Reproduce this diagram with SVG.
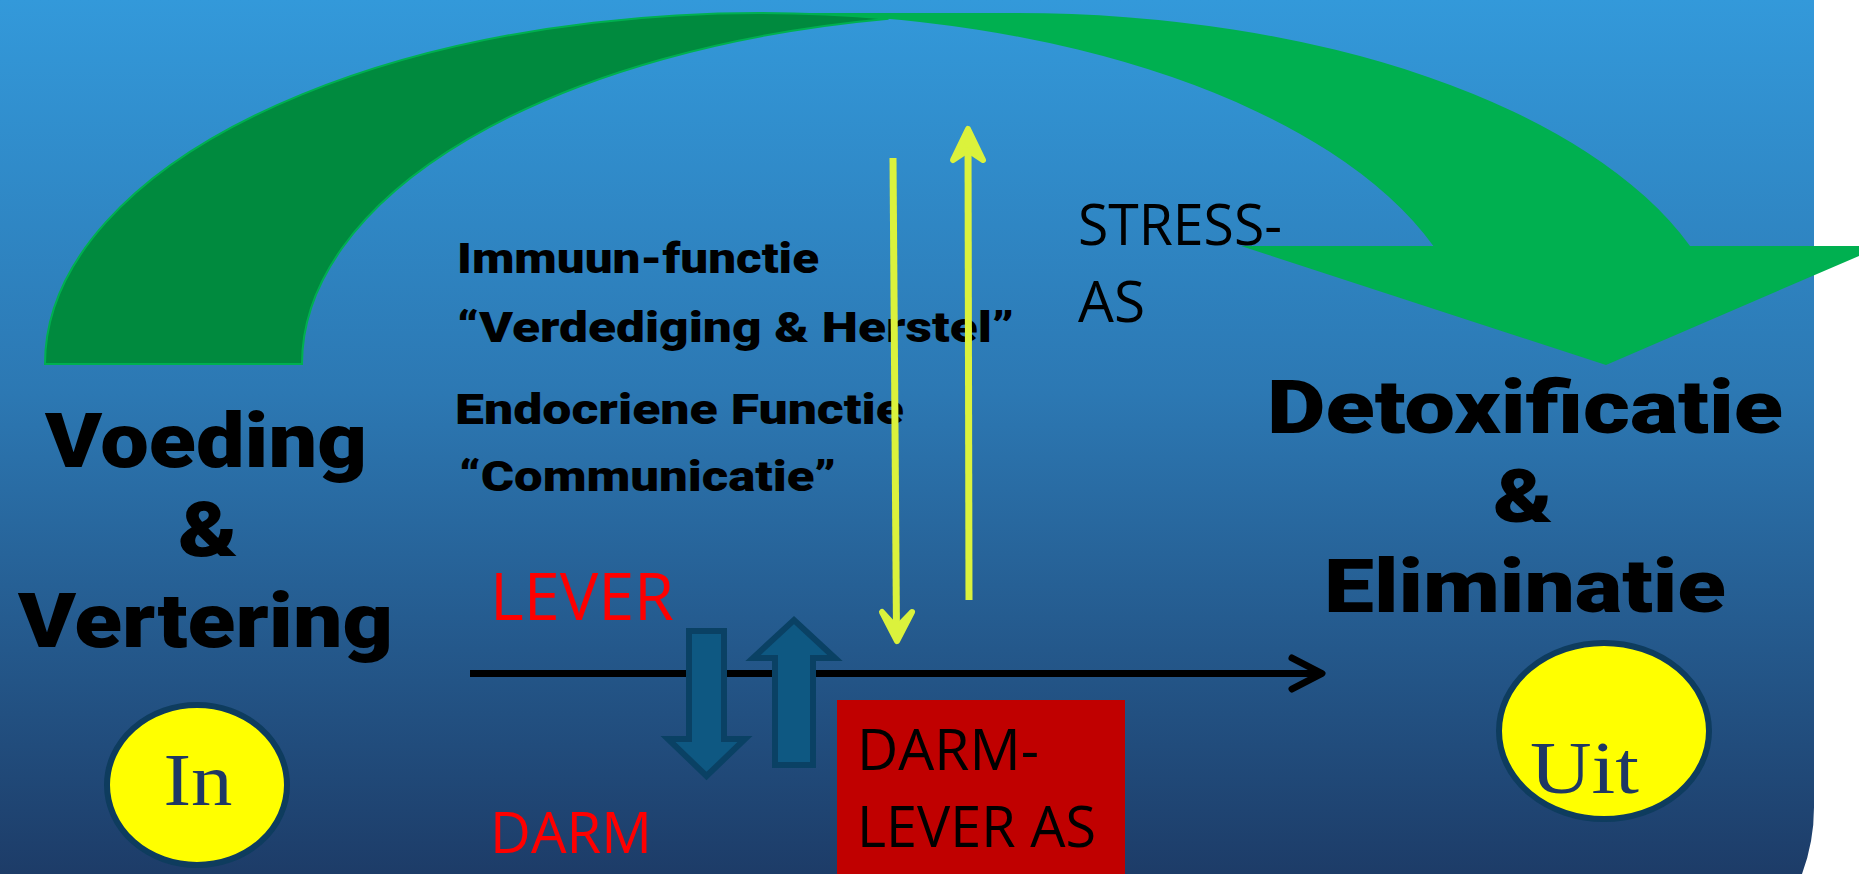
<svg xmlns="http://www.w3.org/2000/svg" width="1859" height="874" viewBox="0 0 1859 874">
  <defs>
    <linearGradient id="bg" x1="0" y1="0" x2="0" y2="1">
      <stop offset="0" stop-color="#3399da"/>
      <stop offset="0.45" stop-color="#2c78b3"/>
      <stop offset="1" stop-color="#1d3c68"/>
    </linearGradient>
    <style>
      .heavy { font-family: Roboto, "Liberation Sans", sans-serif; font-weight: 900; fill: #000; }
      .light { font-family: "Open Sans", "Liberation Sans", sans-serif; font-weight: 400; }
      .serif { font-family: "Liberation Serif", serif; fill: #1f3864; }
      .blockarrow { fill: #0e5882; stroke: #0a4164; stroke-width: 6; }
      .yellow { stroke: #dbf23c; stroke-width: 7; fill: none; }
      .oval { fill: #ffff00; stroke: #0e3c5e; stroke-width: 6; }
    </style>
  </defs>
  <g id="background">
    <rect x="0" y="0" width="1859" height="874" fill="#ffffff"/>
    <path d="M0,0 H1814 V807 A190,190 0 0 1 1802,874 H0 Z" fill="url(#bg)"/>
  </g>
  <g id="curved-arrow">
    <path d="M760,13 L1017,13 A715,351 0 0 1 1690,246 L1882,246 L1606,365 L1241,246 L1433.4,246 A715,351 0 0 0 760,13 Z" fill="#00b050"/>
    <path d="M45,364 A715,351 0 0 1 888.5,18.7 A715,351 0 0 0 302,364 Z" fill="#008a3e" stroke="#00b050" stroke-width="2"/>
  </g>
  <g id="voeding">
    <text class="heavy" x="45" y="467" font-size="76" textLength="322" lengthAdjust="spacingAndGlyphs">Voeding</text>
    <text class="heavy" x="178" y="556" font-size="76" textLength="60" lengthAdjust="spacingAndGlyphs">&amp;</text>
    <text class="heavy" x="18" y="647" font-size="76" textLength="375" lengthAdjust="spacingAndGlyphs">Vertering</text>
  </g>
  <g id="detox">
    <text class="heavy" x="1267" y="433" font-size="74" textLength="516" lengthAdjust="spacingAndGlyphs">Detoxificatie</text>
    <text class="heavy" x="1493" y="522" font-size="74" textLength="60" lengthAdjust="spacingAndGlyphs">&amp;</text>
    <text class="heavy" x="1324" y="612" font-size="74" textLength="402" lengthAdjust="spacingAndGlyphs">Eliminatie</text>
  </g>
  <g id="functies">
    <text class="heavy" x="457" y="273" font-size="42" textLength="362" lengthAdjust="spacingAndGlyphs">Immuun-functie</text>
    <text class="heavy" x="457" y="342" font-size="43" textLength="557" lengthAdjust="spacingAndGlyphs">“Verdediging &amp; Herstel”</text>
    <text class="heavy" x="455" y="424" font-size="43" textLength="449" lengthAdjust="spacingAndGlyphs">Endocriene Functie</text>
    <text class="heavy" x="459" y="491" font-size="43" textLength="377" lengthAdjust="spacingAndGlyphs">“Communicatie”</text>
  </g>
  <g id="stress-as">
    <text class="light" x="1078" y="245" font-size="56" fill="#000" textLength="204" lengthAdjust="spacingAndGlyphs">STRESS-</text>
    <text class="light" x="1078" y="322" font-size="56" fill="#000" textLength="67" lengthAdjust="spacingAndGlyphs">AS</text>
  </g>
  <g id="lever">
    <text class="light" x="490" y="620" font-size="66" fill="#ff0000" textLength="184" lengthAdjust="spacingAndGlyphs">LEVER</text>
  </g>
  <g id="darm">
    <text class="light" x="490" y="853" font-size="56" fill="#ff0000" textLength="162" lengthAdjust="spacingAndGlyphs">DARM</text>
  </g>
  <g id="darm-lever-as">
    <rect x="837" y="700" width="288" height="180" fill="#c00000"/>
    <text class="light" x="857" y="770" font-size="56" fill="#000" textLength="182" lengthAdjust="spacingAndGlyphs">DARM-</text>
    <text class="light" x="857" y="847" font-size="56" fill="#000" textLength="239" lengthAdjust="spacingAndGlyphs">LEVER AS</text>
  </g>
  <g id="in">
    <ellipse class="oval" cx="197" cy="785" rx="90" ry="80"/>
    <text class="serif" x="198" y="805" font-size="74" text-anchor="middle" textLength="69" lengthAdjust="spacingAndGlyphs">In</text>
  </g>
  <g id="uit">
    <ellipse class="oval" cx="1604" cy="731" rx="105" ry="88"/>
    <text class="serif" x="1530" y="793" font-size="74" textLength="109" lengthAdjust="spacingAndGlyphs">Uit</text>
  </g>
  <g id="connectors">
    <path d="M470,673.5 H1320" stroke="#000" stroke-width="7" fill="none"/>
    <path d="M1292,658 L1322,673.5 L1292,689" stroke="#000" stroke-width="7" fill="none" stroke-linecap="round" stroke-linejoin="round"/>
    <path class="blockarrow" d="M689,631 H724 V739 H745 L706.5,776 L668,739 H689 Z"/>
    <path class="blockarrow" d="M775,765 V658 H753 L794,620 L835,658 H813 V765 Z"/>
    <path class="yellow" d="M893,158 L896.5,632"/>
    <path d="M882,612 L897,641 L912,612 L896.5,628 Z" fill="#dbf23c" stroke="#dbf23c" stroke-width="6" stroke-linejoin="round"/>
    <path class="yellow" d="M969,600 L968,138"/>
    <path d="M953,160 L968,129 L983,160 L968,150 Z" fill="#dbf23c" stroke="#dbf23c" stroke-width="6" stroke-linejoin="round"/>
  </g>
</svg>
